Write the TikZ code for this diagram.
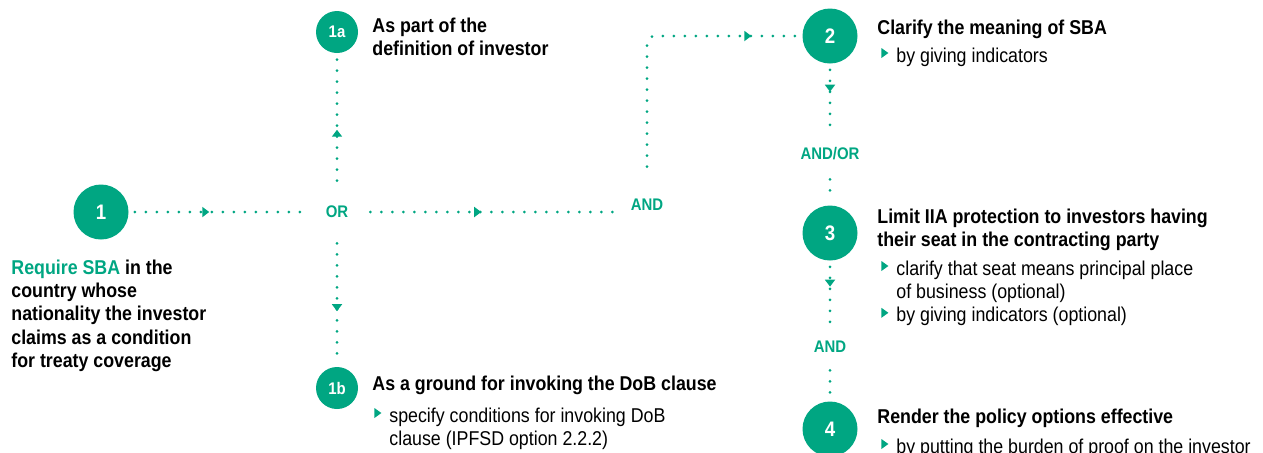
\documentclass[tikz,border=0pt]{standalone}
\usepackage{fontspec}
\setmainfont{Liberation Sans}[FakeStretch=0.89]
\usepackage{xcolor}
\usetikzlibrary{arrows.meta,decorations.markings,positioning}
\definecolor{sbagreen}{RGB}{0,166,130}
\newcommand{\headfont}{\fontsize{10}{11.7}\selectfont\bfseries}
\newcommand{\bodyfont}{\fontsize{10}{11.7}\selectfont}
\newcommand{\bmark}{\tikz[baseline=0pt]\fill[sbagreen] (0pt,2pt) -- (3.5pt,4.5pt) -- (0pt,7pt) -- cycle;}
\tikzset{
  numdot/.style={circle, fill=sbagreen, text=white, inner sep=0pt, minimum size=27.5pt,
    font=\fontsize{10.5}{12}\selectfont\bfseries},
  numdotsmall/.style={numdot, minimum size=21pt, font=\fontsize{8.4}{10}\selectfont\bfseries},
  joiner/.style={text=sbagreen, inner sep=0pt, minimum width=30pt, minimum height=24pt,
    font=\fontsize{8.4}{10}\selectfont\bfseries},
  dotline/.style={sbagreen, line width=1.5pt, line cap=round, dash pattern=on 0pt off 5.5pt},
  midarrow/.style={postaction={decorate, decoration={markings,
    mark=at position #1 with {\arrow{Triangle[length=3.5pt,width=5pt]}}}}},
  heading/.style={anchor=base west, inner sep=0pt, font=\headfont},
  bullets/.style={anchor=base west, inner sep=0pt, font=\bodyfont},
}
\begin{document}
\begin{tikzpicture}[x=0.5pt, y=-0.5pt]
  \useasboundingbox (0,0) rectangle (1263,452);
  % steps
  \node[numdot] (c1) at (101,212) {1};
  \node[numdotsmall] (c1a) at (337,32) {1a};
  \node[numdotsmall] (c1b) at (337,388) {1b};
  \node[numdot] (c2) at (830,36) {2};
  \node[numdot] (c3) at (830,233) {3};
  \node[numdot] (c4) at (830,429) {4};
  % joining words
  \node[joiner, minimum width=33pt, minimum height=31pt] (or) at (337,212) {OR};
  \node[joiner, minimum height=38pt] (and1) at (647,205) {AND};
  \node[joiner, minimum height=25pt] (andor) at (830,154) {AND/OR};
  \node[joiner, minimum height=23pt] (and2) at (830,347) {AND};
  % texts
  \node[heading] (t1) at (11,274) {\begin{tabular}[t]{@{}l@{}}
    \textcolor{sbagreen}{Require SBA} in the\\ country whose\\ nationality the investor\\
    claims as a condition\\ for treaty coverage\end{tabular}};
  \node[heading] (t1a) at (372,32) {\begin{tabular}[t]{@{}l@{}}
    As part of the\\ definition of investor\end{tabular}};
  \node[heading] (t1b) at (372,390) {As a ground for invoking the DoB clause};
  \node[bullets] (b1b) at (374,422) {\begin{tabular}[t]{@{}l@{\hspace{4pt}}l@{}}
    \bmark & specify conditions for invoking DoB\\ & clause (IPFSD option 2.2.2)\end{tabular}};
  \node[heading] (t2) at (877,34) {Clarify the meaning of SBA};
  \node[bullets] (b2) at (881,62) {\begin{tabular}[t]{@{}l@{\hspace{4pt}}l@{}}
    \bmark & by giving indicators\end{tabular}};
  \node[heading] (t3) at (877,223) {\begin{tabular}[t]{@{}l@{}}
    Limit IIA protection to investors having\\ their seat in the contracting party\end{tabular}};
  \node[bullets] (b3) at (881,275) {\begin{tabular}[t]{@{}l@{\hspace{4pt}}l@{}}
    \bmark & clarify that seat means principal place\\ & of business (optional)\\
    \bmark & by giving indicators (optional)\end{tabular}};
  \node[heading] (t4) at (877,423) {Render the policy options effective};
  \node[bullets] (b4) at (881,453) {\begin{tabular}[t]{@{}l@{\hspace{4pt}}l@{}}
    \bmark & by putting the burden of proof on the investor\end{tabular}};
  % connectors
  \draw[dotline, midarrow=0.46, shorten <=3pt] (c1) -- (or);
  \draw[dotline, midarrow=0.45] (or) -- (or.east -| and1.west);
  \draw[dotline, midarrow=0.40, shorten >=2pt] (or) -- (c1a);
  \draw[dotline, midarrow=0.55, shorten >=3pt] (or) -- (c1b);
  \draw[dotline, midarrow=0.82, rounded corners=4pt, shorten >=3pt] (and1) |- (c2);
  \draw[dotline, midarrow=0.43, shorten <=3pt] (c2) -- (andor);
  \draw[dotline, shorten >=4pt] (andor) -- (c3);
  \draw[dotline, midarrow=0.41, shorten <=3pt] (c3) -- (and2);
  \draw[dotline, shorten >=4pt] (and2) -- (c4);
\end{tikzpicture}
\end{document}
